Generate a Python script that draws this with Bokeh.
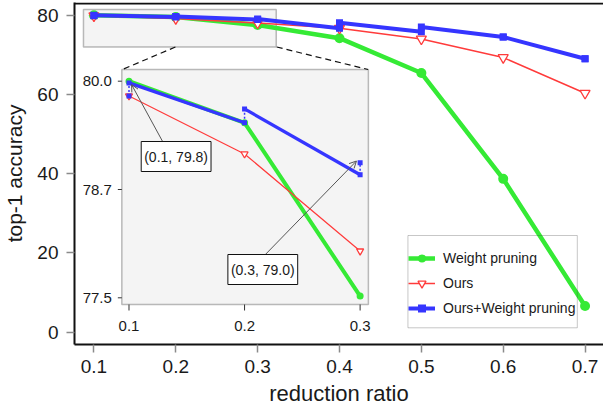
from bokeh.plotting import figure
from bokeh.models import (Range1d, FixedTicker, BoxAnnotation, Legend, Span,
                          LegendItem, Label, Arrow, OpenHead)
from bokeh.core.properties import value
from bokeh.embed import file_html
from bokeh.resources import INLINE

# ---------------- data ----------------
ratio = [0.1, 0.2, 0.3, 0.4, 0.5, 0.6, 0.7]
weight_pruning = [80.0, 79.52, 77.52, 74.2, 65.4, 38.7, 6.6]
ours = [79.83, 79.16, 78.04, 76.7, 74.0, 69.3, 60.3]
# "Ours+Weight pruning": value where the line arrives / where it leaves each ratio
ours_wp_low = [79.83, 79.52, 78.92, 76.7, 75.8, 74.5, 69.0]
ours_wp_high = [79.98, 79.68, 79.06, 78.1, 77.0, 74.5, 69.0]
y_ticks = [0, 20, 40, 60, 80]
inset_x_ticks = [0.1, 0.2, 0.3]
inset_y_ticks = [77.5, 78.75, 80.0]
inset_y_labels = ["77.5", "78.7", "80.0"]
callout_texts = ["(0.1, 79.8)", "(0.3, 79.0)"]
x_title = "reduction ratio"
y_title = "top-1 accuracy"
n_inset = 3

GREEN = "#35ea35"
RED = "#ff3b3b"
BLUE = "#3535ff"
FONT = "Liberation Sans"
TXT = "#1a1a1a"

W, H = 603, 410
FL, FR, FT, FB = 72, 603, 2, 344   # frame edges (px)


def lin(p0, v0, p1, v1):
    k = (v1 - v0) / (p1 - p0)
    return lambda px: v0 + (px - p0) * k


mx = lin(91.5, 0.1, 584.5, 0.7)
my = lin(331.7, 0.0, 14.7, 80.0)
ix = lin(126.7, 0.1, 358.7, 0.3)
iy = lin(297.3, 77.5, 80.7, 80.0)
ipx = (ix(1) - ix(0))          # inset x units per px
ipy = (iy(0) - iy(1))          # inset y units per px

p = figure(width=W, height=H, output_backend="svg", toolbar_location=None,
           x_range=Range1d(mx(FL), mx(FR)), y_range=Range1d(my(FB), my(FT)),
           min_border_left=FL, min_border_right=W - FR, min_border_top=FT,
           min_border_bottom=H - FB,
           background_fill_color="white", border_fill_color="white",
           outline_line_color=None)
p.extra_x_ranges = {"ix": Range1d(ix(FL), ix(FR))}
p.extra_y_ranges = {"iy": Range1d(iy(FB), iy(FT))}
p.grid.visible = False

xa = p.xaxis[0]
xa.ticker = FixedTicker(ticks=ratio)
xa.axis_label = x_title
ya = p.yaxis[0]
ya.ticker = FixedTicker(ticks=y_ticks)
ya.axis_label = y_title
for ax in (xa, ya):
    ax.axis_line_color = "#111111"
    ax.axis_line_width = 2
    ax.major_tick_out = 8
    ax.major_tick_in = 0
    ax.minor_tick_out = 0
    ax.minor_tick_in = 0
    ax.major_tick_line_color = "#8a8a8a"
    ax.major_tick_line_width = 1.5
    ax.major_label_text_font = FONT
    ax.major_label_text_font_size = "19px"
    ax.major_label_text_color = TXT
    ax.axis_label_text_font = FONT
    ax.axis_label_text_font_style = "normal"
    ax.axis_label_text_color = TXT
xa.major_label_standoff = 7
xa.axis_label_text_font_size = "22px"
xa.axis_label_standoff = 5
ya.major_label_standoff = 8
ya.axis_label_text_font_size = "21px"
ya.axis_label_standoff = 8

# top border of the frame
p.add_layout(Span(location=my(FT + 1), dimension="width", line_color="#111111",
                  line_width=2))

# zoom indicator box and inset frame
p.add_layout(BoxAnnotation(left=mx(81), right=mx(274.5), bottom=my(46.5), top=my(9),
                           fill_color="#f4f4f4", fill_alpha=1, line_color="#222222",
                           line_width=1.5, level="underlay"))
p.add_layout(BoxAnnotation(left=ix(119.5), right=ix(367), bottom=iy(304), top=iy(69),
                           x_range_name="ix", y_range_name="iy",
                           fill_color="#f4f4f4", fill_alpha=1, line_color="#222222",
                           line_width=1.5, level="underlay"))
p.segment(x0=[mx(173.3), mx(275)], y0=[my(46.5), my(46.5)],
          x1=[mx(120), mx(366.7)], y1=[my(69), my(69)],
          line_color="#111111", line_width=1.2, line_dash="6 4")


def draw(n, xr, yr, g_size, r_size, b_size, g_w, r_w, b_w):
    kw = {} if xr is None else dict(x_range_name=xr, y_range_name=yr)
    xs = ratio[:n]
    gl = p.line(xs, weight_pruning[:n], line_color=GREEN, line_width=g_w, **kw)
    gp = p.scatter(xs, weight_pruning[:n], marker="circle", size=g_size,
                   fill_color=GREEN, line_color=None, **kw)
    rl = p.line(xs, ours[:n], line_color=RED, line_width=r_w, **kw)
    rp = p.scatter(xs, ours[:n], marker="inverted_triangle", size=r_size,
                   fill_color="white", line_color=RED, line_width=1.3, **kw)
    bl = p.segment(x0=xs[:-1], y0=ours_wp_high[:n - 1], x1=xs[1:], y1=ours_wp_low[1:n],
                   line_color=BLUE, line_width=b_w, **kw)
    p.segment(x0=xs, y0=ours_wp_low[:n], x1=xs, y1=ours_wp_high[:n],
              line_color=BLUE, line_width=1.5, line_dash="2 2", **kw)
    bp = p.scatter(xs + xs, ours_wp_low[:n] + ours_wp_high[:n], marker="square",
                   size=b_size, fill_color=BLUE, line_color=None, **kw)
    return (gl, gp), (rl, rp), (bl, bp)


g, r, b = draw(len(ratio), None, None, 10, 10, 7, 4.5, 1.5, 4)
draw(n_inset, "ix", "iy", 7, 7, 5, 4, 1.2, 3.3)

# inset ticks and tick labels
p.segment(x0=[ix(115.5)] * 3, y0=inset_y_ticks, x1=[ix(119.5)] * 3, y1=inset_y_ticks,
          x_range_name="ix", y_range_name="iy", line_color="#333333", line_width=1)
p.segment(x0=inset_x_ticks, y0=[iy(304)] * 3, x1=inset_x_ticks, y1=[iy(310)] * 3,
          x_range_name="ix", y_range_name="iy", line_color="#333333", line_width=1)
p.text(x=inset_x_ticks, y=[iy(304)] * 3, text=[f"{t:.1f}" for t in inset_x_ticks],
       x_range_name="ix", y_range_name="iy", y_offset=21, text_align="center",
       text_baseline="middle", text_font=value(FONT), text_font_size="15px",
       text_color=TXT)
p.text(x=[ix(119.5)] * 3, y=inset_y_ticks, text=inset_y_labels,
       x_range_name="ix", y_range_name="iy", x_offset=-10, text_align="right",
       text_baseline="middle", text_font=value(FONT), text_font_size="15px",
       text_color=TXT)

# callouts
head_kw = dict(size=7, line_color="#555555", line_width=1)
p.add_layout(Arrow(x_start=ix(161.7), y_start=iy(143.3),
                   x_end=ratio[0] + 2.6 * ipx, y_end=ours_wp_high[0] - 1.7 * ipy,
                   end=OpenHead(**head_kw), line_color="#555555", line_width=1,
                   x_range_name="ix", y_range_name="iy"))
p.add_layout(Arrow(x_start=ix(260), y_start=iy(257.7),
                   x_end=ratio[2] - 3.7 * ipx, y_end=ours_wp_high[2] + 1.6 * ipy,
                   end=OpenHead(**head_kw), line_color="#555555", line_width=1,
                   x_range_name="ix", y_range_name="iy"))
for txt, cx, cy in zip(callout_texts, [174, 261], [156, 269]):
    p.add_layout(Label(x=ix(cx), y=iy(cy), text=txt, x_range_name="ix", y_range_name="iy",
                       text_align="center", text_baseline="middle", text_font=FONT,
                       text_font_size="14px", text_color=TXT,
                       background_fill_color="white", border_line_color="#111111",
                       border_line_width=1, padding=(3, 7)))

# legend
p.add_layout(BoxAnnotation(left=mx(406.7), right=mx(576.7), bottom=my(327.3), top=my(235),
                           fill_color=None, line_color="#444444", line_width=1))
legend = Legend(items=[LegendItem(label="Weight pruning", renderers=list(g)),
                       LegendItem(label="Ours", renderers=list(r)),
                       LegendItem(label="Ours+Weight pruning", renderers=list(b))],
                location=(334, 26), border_line_color=None, background_fill_alpha=0,
                padding=2, margin=0, spacing=5, glyph_width=27, glyph_height=20,
                label_height=20, label_standoff=8, label_text_font=FONT,
                label_text_font_size="14px", label_text_color=TXT)
p.add_layout(legend)

open("out.html", "w").write(file_html(p, INLINE))
